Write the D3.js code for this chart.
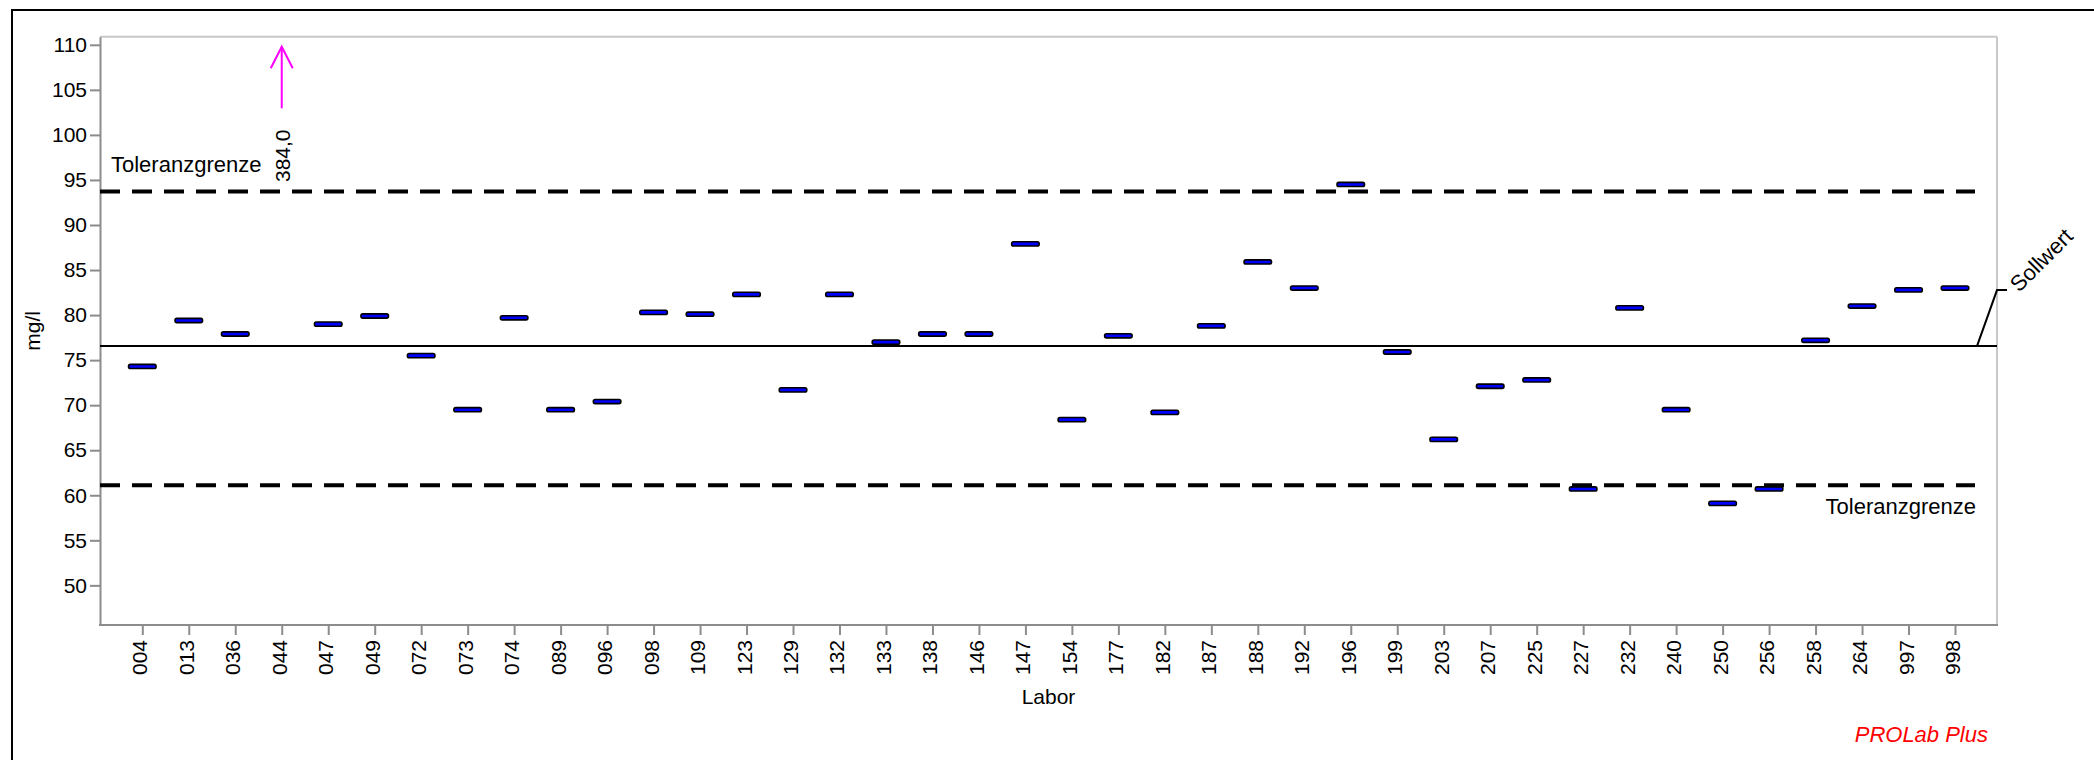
<!DOCTYPE html>
<html><head><meta charset="utf-8">
<script src="https://cdn.jsdelivr.net/npm/d3@7"></script>
<style>
body{margin:0;background:#fff}
svg{display:block}
text{font-family:"Liberation Sans",Arial,sans-serif}
</style></head>
<body><svg id="c" width="2094" height="760"></svg>
<script>
const labs = ["004","013","036","044","047","049","072","073","074","089","096","098","109","123","129","132","133","138","146","147","154","177","182","187","188","192","196","199","203","207","225","227","232","240","250","256","258","264","997","998"];
const values = [74.3,79.4,77.9,384.0,79.0,79.9,75.5,69.5,79.7,69.5,70.4,80.3,80.1,82.3,71.7,82.3,77.0,77.9,77.9,87.9,68.4,77.7,69.2,78.8,85.9,83.0,94.5,75.9,66.2,72.1,72.8,60.7,80.8,69.5,59.1,60.7,77.2,81.0,82.8,83.0];
const yTicks = [50,55,60,65,70,75,80,85,90,95,100,105,110];
const sollwert = 76.56;
const tolUpper = 93.73;
const tolLower = 61.11;
const yLabel = "mg/l", xLabel = "Labor", refLabel = "Sollwert", tolLabel = "Toleranzgrenze", brand = "PROLab Plus";

const svg = d3.select("#c");
const L = 100, R = 1997, T = 36.7, B = 625;
const x = d3.scalePoint().domain(labs).range([142.3, 1955]);
const y = d3.scaleLinear().domain([45.6, 110.9]).range([B, T]);
const FS = 21, FL = 22;

// outer frame
svg.append("rect").attr("x",12).attr("y",10).attr("width",2300).attr("height",1000)
  .attr("fill","none").attr("stroke","#000").attr("stroke-width",2);

// plot top/right border
svg.append("line").attr("x1",L).attr("x2",R).attr("y1",T).attr("y2",T).attr("stroke","#c8c8c8").attr("stroke-width",2);
svg.append("line").attr("x1",R).attr("x2",R).attr("y1",T).attr("y2",B).attr("stroke","#c8c8c8").attr("stroke-width",2);

// y axis
const ya = svg.append("g").attr("transform",`translate(${L},0)`)
  .call(d3.axisLeft(y).tickValues(yTicks).tickSize(10).tickSizeOuter(0).tickPadding(3));
ya.select(".domain").attr("stroke","#8c8c8c").attr("stroke-width",2);
ya.selectAll(".tick line").attr("stroke","#8c8c8c").attr("stroke-width",2);
ya.selectAll(".tick text").attr("font-size",FS).attr("fill","#000").style("font-family","'Liberation Sans',Arial,sans-serif");

// x axis
const xa = svg.append("g").attr("transform",`translate(0,${B})`)
  .call(d3.axisBottom(x).tickSize(10).tickSizeOuter(0));
xa.select(".domain").remove();
xa.selectAll(".tick line").attr("stroke","#8c8c8c").attr("stroke-width",2);
xa.selectAll(".tick text").attr("font-size",FS).attr("fill","#000")
  .attr("x",0).attr("y",0).attr("dy",0)
  .attr("transform","translate(4.5,15) rotate(-90)")
  .style("text-anchor","end").style("font-family","'Liberation Sans',Arial,sans-serif");
svg.append("line").attr("x1",L-1).attr("x2",R+1).attr("y1",B).attr("y2",B).attr("stroke","#8c8c8c").attr("stroke-width",2);

// axis titles
svg.append("text").attr("transform",`translate(40,${(T+B)/2}) rotate(-90)`).attr("text-anchor","middle").attr("font-size",FS).text(yLabel);
svg.append("text").attr("x",(L+R)/2).attr("y",704).attr("text-anchor","middle").attr("font-size",FS).text(xLabel);

// tolerance lines
[tolUpper, tolLower].forEach(v => {
  svg.append("line").attr("x1",L).attr("x2",1975).attr("y1",y(v)).attr("y2",y(v))
    .attr("stroke","#000").attr("stroke-width",4).attr("stroke-dasharray","20,12");
});
svg.append("text").attr("x",111).attr("y",y(tolUpper)-19).attr("font-size",FL).text(tolLabel);
svg.append("text").attr("x",1976).attr("y",y(tolLower)+29).attr("text-anchor","end").attr("font-size",FL).text(tolLabel);

// sollwert
const ys = y(sollwert);
svg.append("line").attr("x1",L).attr("x2",R).attr("y1",ys).attr("y2",ys).attr("stroke","#000").attr("stroke-width",2);
svg.append("path").attr("d",`M1977,${ys} L${R},${ys-56} L2007,${ys-56}`).attr("fill","none").attr("stroke","#000").attr("stroke-width",2);
svg.append("text").attr("transform",`translate(2019,${ys-53}) rotate(-45)`).attr("font-size",FL).text(refLabel);

// markers
const yMax = y.domain()[1];
const data = labs.map((l,i)=>({l, v: values[i]}));
svg.selectAll("rect.m").data(data.filter(d=>d.v<=yMax)).join("rect").attr("class","m")
  .attr("x",d=>x(d.l)-13.75).attr("y",d=>y(d.v)-2.1).attr("width",27.5).attr("height",4.2)
  .attr("rx",1.8).attr("fill","#0000ff").attr("stroke","#000").attr("stroke-width",1.6);

// out of range arrows
data.filter(d=>d.v>yMax).forEach(d=>{
  const cx = x(d.l);
  const g = svg.append("g").attr("stroke","#ff00ff").attr("stroke-width",2).attr("fill","none");
  g.append("line").attr("x1",cx).attr("x2",cx).attr("y1",108.3).attr("y2",46.7);
  g.append("path").attr("d",`M${cx-11},68.3 L${cx},46.7 L${cx+11},68.3`);
  svg.append("text").attr("transform",`translate(${cx+8.5},182) rotate(-90)`).attr("font-size",FS)
    .text(d3.format(".1f")(d.v).replace(".",","));
});

// brand
svg.append("text").attr("x",1988).attr("y",742).attr("text-anchor","end").attr("font-size",22)
  .attr("font-style","italic").attr("fill","#ff0000").text(brand);
</script></body></html>
